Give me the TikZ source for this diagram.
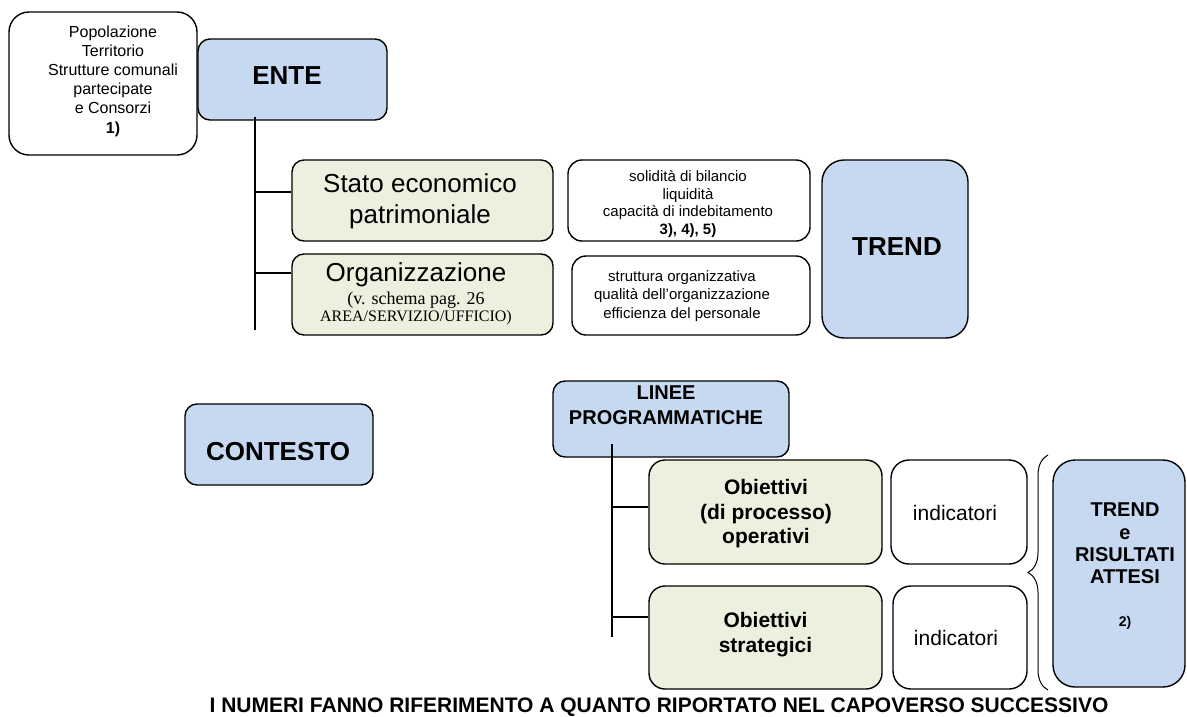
\documentclass[tikz,border=0pt]{standalone}
\usepackage{fontspec}
\setmainfont{Liberation Sans}
\newfontfamily\timesf{Liberation Serif}
\usetikzlibrary{decorations.pathreplacing}
\definecolor{boxblue}{HTML}{C6D9F1}
\definecolor{boxgreen}{HTML}{EBF1DE}
\tikzset{
  bx/.style={draw=black, line width=1.4pt, rounded corners=12pt, inner sep=0pt},
  bluebox/.style={bx, fill=boxblue},
  greenbox/.style={bx, fill=boxgreen},
  whitebox/.style={bx, fill=white},
  lbl/.style={inner sep=0pt, align=center},
  conn/.style={line width=1.4pt},
}
\begin{document}
\begin{tikzpicture}[x=1pt,y=-1pt]
\useasboundingbox[fill=white] (0,0) rectangle (1187,716);

% ---------- upper part ----------
\node[whitebox, rounded corners=20pt, minimum width=188pt, minimum height=143pt] (pop) at (103,83.5) {};
\node[lbl, font=\fontsize{16}{19.2}\selectfont] (popt) at (113,81)
  {Popolazione\\Territorio\\Strutture comunali\\partecipate\\e Consorzi\\\textbf{1)}};

\node[bluebox, minimum width=189pt, minimum height=81pt] (ente) at (292.5,79.5) {};
\node[lbl, font=\bfseries\fontsize{26}{31}\selectfont] (entet) at (287,76) {ENTE};

\node[greenbox, minimum width=261pt, minimum height=81pt] (stato) at (422.5,200.5) {};
\node[lbl, font=\fontsize{26}{31}\selectfont] (statot) at (420,201.5) {Stato economico\\patrimoniale};

\node[greenbox, minimum width=261pt, minimum height=81pt] (org) at (422.5,294.5) {};
\node[inner sep=0pt, anchor=base, font=\fontsize{26}{31}\selectfont] (orgt1) at (416,281) {Organizzazione};
\node[inner sep=0pt, anchor=base, font=\timesf\fontsize{18}{20}\selectfont] (orgt2) at (416,304) {(v. schema pag. 26};
\node[inner sep=0pt, anchor=base, font=\timesf\fontsize{16}{18}\selectfont] (orgt3) at (416,321) {AREA/SERVIZIO/UFFICIO)};

\node[whitebox, rounded corners=14pt, minimum width=242pt, minimum height=81pt] (sol) at (689,200.5) {};
\node[lbl, font=\fontsize{15}{17.4}\selectfont] (solt) at (688,204)
  {solidità di bilancio\\liquidità\\capacità di indebitamento\\\textbf{3), 4), 5)}};

\node[whitebox, rounded corners=14pt, minimum width=238pt, minimum height=79pt] (str) at (691,295.5) {};
\node[lbl, font=\fontsize{15}{18.2}\selectfont] (strt) at (682,296)
  {struttura organizzativa\\qualità dell’organizzazione\\efficienza del personale};

\node[bluebox, rounded corners=22pt, minimum width=146pt, minimum height=178pt] (trend) at (895,249) {};
\node[lbl, font=\bfseries\fontsize{26}{31}\selectfont] (trendt) at (897,247) {TREND};

\coordinate (enteTop) at (255,117);
\coordinate (enteBot) at (255,330);
\coordinate (j1) at (255,192);
\coordinate (j2) at (255,273);
\draw[conn] (enteTop) -- (enteBot);
\draw[conn] (j1) -- (j1 -| stato.west);
\draw[conn] (j2) -- (j2 -| org.west);

% ---------- lower part ----------
\node[bluebox, minimum width=188pt, minimum height=81pt] (cont) at (279,444.5) {};
\node[lbl, font=\bfseries\fontsize{26}{31}\selectfont] (contt) at (278,452) {CONTESTO};

\node[bluebox, minimum width=236pt, minimum height=76pt] (linee) at (671,419) {};
\node[lbl, font=\bfseries\fontsize{20}{25}\selectfont] (lineet) at (666,405.5) {LINEE\\PROGRAMMATICHE};

\node[greenbox, rounded corners=16pt, minimum width=233pt, minimum height=104pt] (ob1) at (765.5,512) {};
\node[lbl, font=\bfseries\fontsize{21}{24.5}\selectfont] (ob1t) at (766,514) {Obiettivi\\(di processo)\\operativi};

\node[whitebox, rounded corners=18pt, minimum width=136pt, minimum height=104pt] (ind1) at (959,512) {};
\node[lbl, font=\fontsize{21}{24.5}\selectfont] (ind1t) at (955,512.5) {indicatori};

\node[greenbox, rounded corners=16pt, minimum width=233pt, minimum height=103pt] (ob2) at (765.5,637.5) {};
\node[lbl, font=\bfseries\fontsize{21}{24.5}\selectfont] (ob2t) at (765.5,634.5) {Obiettivi\\strategici};

\node[whitebox, rounded corners=18pt, minimum width=134pt, minimum height=103pt] (ind2) at (960,637.5) {};
\node[lbl, font=\fontsize{21}{24.5}\selectfont] (ind2t) at (956,638) {indicatori};

\node[bluebox, rounded corners=22pt, minimum width=132pt, minimum height=227pt] (tre2) at (1119,573.5) {};
\node[lbl, font=\bfseries\fontsize{20}{22.3}\selectfont] (tre2t) at (1125,543.5) {TREND\\e\\RISULTATI\\ATTESI};
\node[lbl, font=\bfseries\fontsize{14}{16}\selectfont] (tre2n) at (1125,623) {2)};

\coordinate (braceBot) at (1048,690);
\coordinate (braceTop) at (1048,455);
\draw[line width=1pt, decorate, decoration={brace, amplitude=20pt}] (braceBot) -- (braceTop);

\coordinate (lineeTop) at (612,444);
\coordinate (lineeBot) at (612,637);
\coordinate (k1) at (612,507);
\coordinate (k2) at (612,617);
\draw[conn] (lineeTop) -- (lineeBot);
\draw[conn] (k1) -- (k1 -| ob1.west);
\draw[conn] (k2) -- (k2 -| ob2.west);

\node[lbl, font=\bfseries\fontsize{21}{24}\selectfont] (note) at (659,707.5)
  {I NUMERI FANNO RIFERIMENTO A QUANTO RIPORTATO NEL CAPOVERSO SUCCESSIVO};
\end{tikzpicture}
\end{document}
